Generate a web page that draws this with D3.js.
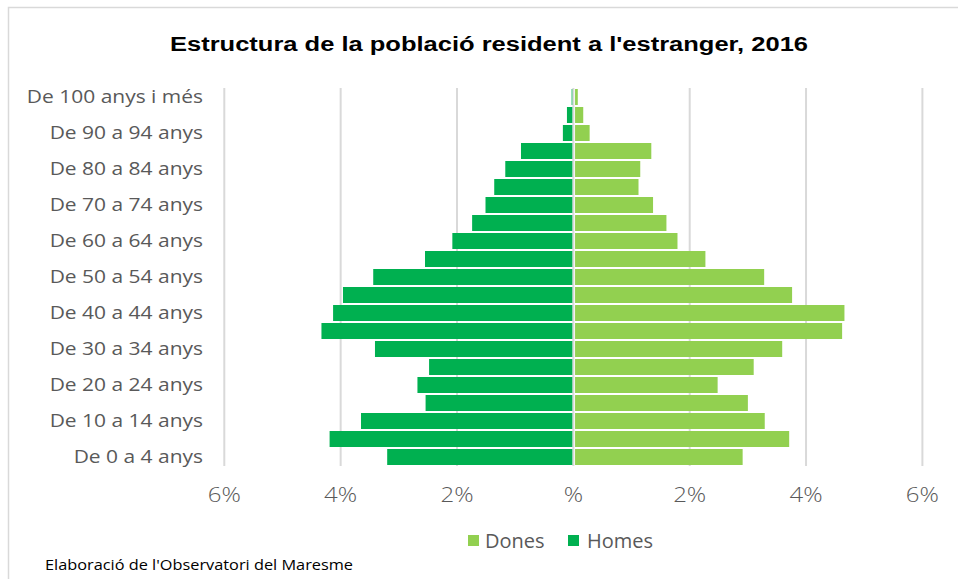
<!DOCTYPE html>
<html><head><meta charset="utf-8">
<script src="https://cdn.jsdelivr.net/npm/d3@7/dist/d3.min.js"></script>
<style>body{margin:0;background:#fff}svg{display:block}</style>
</head><body><svg id="c" width="958" height="579"></svg>
<script>
const categories = ["De 0 a 4 anys","De 5 a 9 anys","De 10 a 14 anys","De 15 a 19 anys","De 20 a 24 anys","De 25 a 29 anys","De 30 a 34 anys","De 35 a 39 anys","De 40 a 44 anys","De 45 a 49 anys","De 50 a 54 anys","De 55 a 59 anys","De 60 a 64 anys","De 65 a 69 anys","De 70 a 74 anys","De 75 a 79 anys","De 80 a 84 anys","De 85 a 89 anys","De 90 a 94 anys","De 95 a 99 anys","De 100 anys i més"];
const homes = [3.20,4.19,3.65,2.54,2.68,2.48,3.41,4.33,4.13,3.96,3.44,2.55,2.08,1.74,1.51,1.36,1.17,0.90,0.18,0.11,0.03];
const dones = [2.91,3.71,3.29,3.00,2.48,3.10,3.59,4.62,4.66,3.76,3.28,2.27,1.79,1.60,1.37,1.12,1.15,1.34,0.28,0.17,0.076];
const tickValues = [-6,-4,-2,0,2,4,6];
const tickLabels = ["6%","4%","2%","%","2%","4%","6%"];
const seriesNames = ["Dones","Homes"];
const colors = {Dones:"#92d050", Homes:"#00b050"};

const svg = d3.select("#c");
const font = "'Open Sans', sans-serif";
const stretch = 1.165;

// border
svg.append("rect").attr("x",8.5).attr("y",7.5).attr("width",1000).attr("height",1000)
  .attr("fill","none").attr("stroke","#d9d9d9").attr("stroke-width",1.5);

// title
svg.append("text").attr("x",170).attr("y",51)
  .attr("font-family","'Liberation Sans', Arial, sans-serif").attr("font-weight","bold")
  .attr("font-size",19.5).attr("fill","#000")
  .attr("textLength",638).attr("lengthAdjust","spacingAndGlyphs")
  .text("Estructura de la població resident a l'estranger, 2016");

const x = d3.scaleLinear().domain([-6,6]).range([224.3,922.4]);
const y = d3.scaleBand().domain(categories.slice().reverse()).range([88,466]).paddingInner(0);

// gridlines
svg.append("g").selectAll("line").data(tickValues).join("line")
  .attr("x1",d=>x(d)).attr("x2",d=>x(d)).attr("y1",88).attr("y2",466)
  .attr("stroke","#d9d9d9").attr("stroke-width",2);

const bh = y.bandwidth();
// homes (left)
svg.append("g").selectAll("rect").data(categories).join("rect")
  .attr("x",(d,i)=>x(-homes[i])).attr("width",(d,i)=>x(0)-1-x(-homes[i]))
  .attr("y",d=>y(d)+1).attr("height",bh-2).attr("fill",colors.Homes);
// dones (right)
svg.append("g").selectAll("rect").data(categories).join("rect")
  .attr("x",x(0)+1.7).attr("width",(d,i)=>Math.max(0.8,x(dones[i])-x(0)-1.7))
  .attr("y",d=>y(d)+1).attr("height",bh-2).attr("fill",colors.Dones);

// y labels (every other)
svg.append("g").selectAll("text").data(categories.filter((d,i)=>i%2===0)).join("text")
  .attr("transform",d=>`translate(203,${y(d)+bh/2}) scale(${stretch},1)`)
  .attr("dy","0.35em").attr("text-anchor","end")
  .attr("font-family",font).attr("font-size",18).attr("fill","#595959").text(d=>d);

// x tick labels
svg.append("g").selectAll("text").data(tickValues).join("text")
  .attr("transform",d=>`translate(${x(d)},502) scale(1.2,1)`).attr("text-anchor","middle")
  .attr("font-family",font).attr("font-size",20).attr("font-weight",300).attr("fill","#595959")
  .text((d,i)=>tickLabels[i]);

// legend
const leg = [{n:"Dones",sx:468,tx:485},{n:"Homes",sx:568,tx:587}];
leg.forEach(l=>{
  svg.append("rect").attr("x",l.sx).attr("y",535).attr("width",11).attr("height",11).attr("fill",colors[l.n]);
  svg.append("text").attr("x",l.tx).attr("y",548).attr("font-family",font).attr("font-size",20)
    .attr("fill","#595959").text(l.n);
});

// source
svg.append("text").attr("x",45).attr("y",570).attr("font-family",font).attr("font-size",14)
  .attr("fill","#000").attr("textLength",308).attr("lengthAdjust","spacingAndGlyphs")
  .text("Elaboració de l'Observatori del Maresme");
</script>
</body></html>
